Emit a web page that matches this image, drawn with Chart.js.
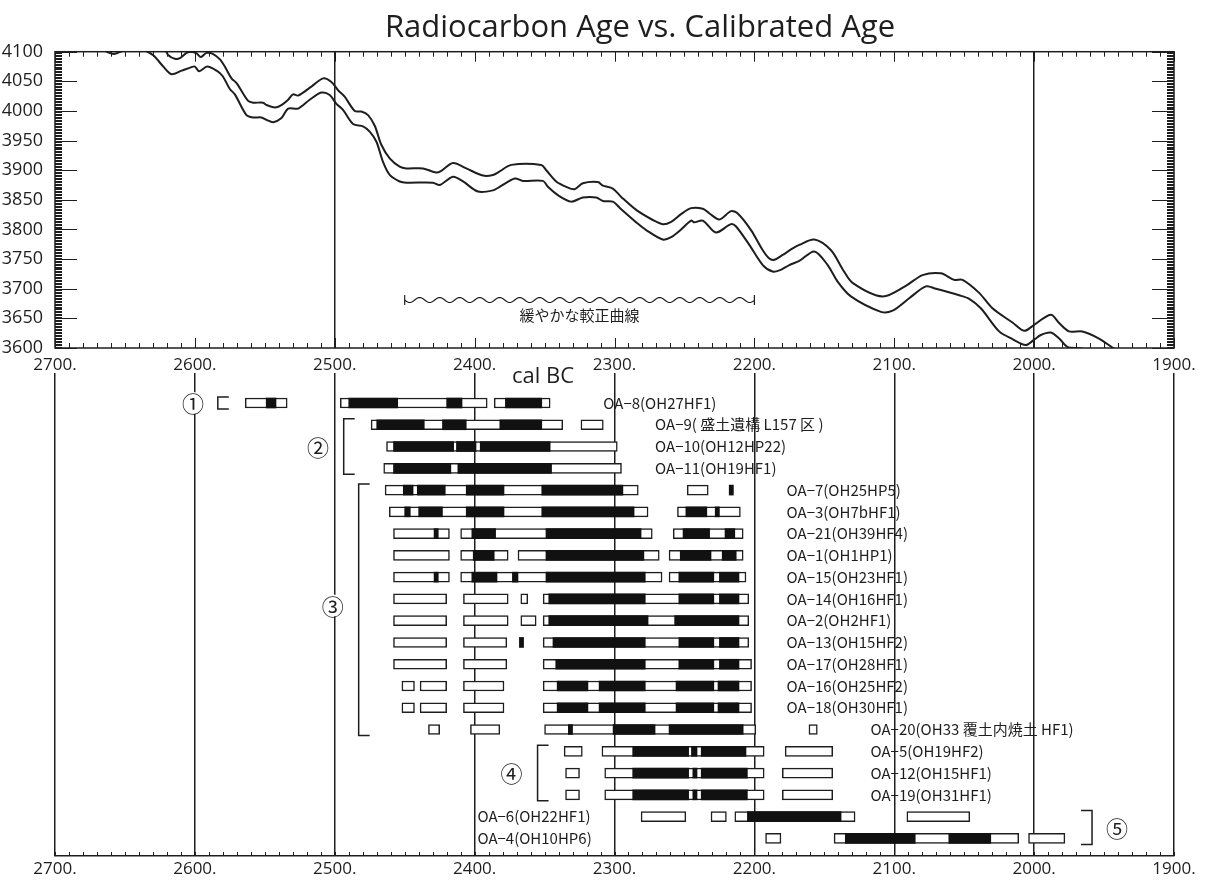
<!DOCTYPE html>
<html>
<head>
<meta charset="utf-8">
<script src="https://cdn.jsdelivr.net/npm/chart.js@4.4.1/dist/chart.umd.min.js"></script>
<style>
  body { margin: 0; background: #fff; }
  #wrap { position: relative; width: 1207px; height: 880px; }
  #curveChart { position: absolute; left: 0; top: 0; }
  #rangeChart { position: absolute; left: 0; top: 370px; }
</style>
</head>
<body>
<div id="wrap">
  <canvas id="curveChart" width="1207" height="390"></canvas>
  <canvas id="rangeChart" width="1207" height="510"></canvas>
</div>
<script>
// calibration curve, upper and lower bounds (cal BC -> 14C BP)
const upperYears = [2672, 2650, 2630, 2621.4, 2619, 2614.3, 2610.7, 2606, 2602.4, 2598.8, 2595.7, 2591.7, 2586.9,
  2582.1, 2578.6, 2573.8, 2570.2, 2561.9, 2558.3, 2551.2, 2548.8, 2542.9, 2538.1, 2533.3, 2529.8, 2526.2, 2516.7,
  2508.3, 2502.4, 2497.6, 2492.9, 2485.7, 2481, 2476.2, 2471.4, 2466.7, 2460.7, 2453.6, 2448.8, 2436.9, 2427.4,
  2423.8, 2415.5, 2406, 2394, 2386.9, 2382.1, 2373.8, 2352.4, 2348.8, 2341.7, 2334.5, 2328.6, 2322.6, 2311.9,
  2308.3, 2301.2, 2295.2, 2284.5, 2272.6, 2265.5, 2259.5, 2252.4, 2245.2, 2236.9, 2232.1, 2225, 2216.7, 2211.9,
  2202.4, 2194, 2189.3, 2185.7, 2179.8, 2172.6, 2167.9, 2157.1, 2145.2, 2136.9, 2129.8, 2108.4, 2091.7, 2079.8,
  2066.7, 2057.1, 2051.2, 2039.3, 2029.8, 2015.5, 2007.1, 2001.2, 1988.1, 1982.1, 1975, 1965.5, 1953.6, 1942.9, 1936.9];
const upperAges = [4135, 4126, 4112, 4103, 4094, 4088, 4089, 4098, 4100, 4097, 4091, 4098, 4096,
  4087, 4075, 4055, 4047, 4017, 4014, 4014, 4010, 4006, 4010, 4019, 4028, 4026, 4041,
  4055, 4049, 4035, 4024, 4000, 3999, 3993, 3975, 3943, 3920, 3906, 3903, 3903, 3896,
  3899, 3912, 3903, 3891, 3892, 3898, 3909, 3909, 3900, 3881, 3872, 3868, 3878, 3880,
  3874, 3869, 3855, 3833, 3816, 3809, 3813, 3826, 3836, 3835, 3827, 3817, 3831, 3827,
  3799, 3765, 3751, 3749, 3757, 3768, 3774, 3783, 3765, 3733, 3710, 3687, 3705, 3723,
  3726, 3715, 3715, 3693, 3667, 3643, 3629, 3637, 3656, 3642, 3628, 3628, 3616, 3599, 3591];
const lowerYears = [2672, 2664, 2658, 2652, 2645, 2636.9, 2629.8, 2622.6, 2616.7, 2609.5, 2602.4, 2600, 2596.9,
  2591.2, 2584.5, 2580.2, 2575, 2571.4, 2563.1, 2558.3, 2552.4, 2548.8, 2544, 2538.1, 2533.3, 2526.2, 2517.9,
  2509.5, 2503.6, 2498.8, 2494.1, 2486.9, 2479.8, 2475, 2470.2, 2465.5, 2460.7, 2453.6, 2448.8, 2429.8, 2425,
  2415.5, 2408.3, 2397.6, 2386.9, 2382.1, 2371.4, 2365.5, 2351.2, 2347.6, 2340.5, 2331, 2322.6, 2313.1, 2308.3,
  2301.2, 2295.2, 2284.5, 2277.4, 2265.5, 2259.5, 2252.4, 2245.2, 2242.9, 2236.9, 2227.4, 2216.7, 2213.1, 2203.6,
  2194, 2186.9, 2182.1, 2175, 2167.9, 2157.1, 2147.6, 2140.5, 2131, 2109.5, 2101.2, 2089.3, 2077.4, 2070.2,
  2053.6, 2046.4, 2038.1, 2025, 2015.5, 2006, 2000, 1995.2, 1988.1, 1982.1, 1976.2, 1965.5, 1960.7];
const lowerAges = [4112, 4101, 4096, 4101, 4107, 4103, 4094, 4075, 4062, 4068, 4074, 4075, 4067,
  4075, 4068, 4059, 4037, 4028, 3993, 3989, 3989, 3985, 3981, 3988, 4004, 4004, 4019,
  4031, 4027, 4012, 4002, 3978, 3974, 3965, 3948, 3914, 3892, 3881, 3879, 3879, 3875,
  3889, 3881, 3864, 3866, 3872, 3886, 3882, 3882, 3872, 3858, 3847, 3854, 3854, 3848,
  3847, 3834, 3812, 3799, 3783, 3787, 3800, 3815, 3812, 3815, 3795, 3809, 3805, 3774,
  3740, 3729, 3731, 3740, 3747, 3763, 3740, 3712, 3687, 3661, 3663, 3684, 3704, 3700,
  3689, 3683, 3667, 3628, 3615, 3605, 3614, 3622, 3626, 3616, 3602, 3599, 3591];

// samples, top to bottom
const sampleNames = [
  'OA−8(OH27HF1)', 'OA−9( 盛土遺構 L157 区 )', 'OA−10(OH12HP22)', 'OA−11(OH19HF1)',
  'OA−7(OH25HP5)', 'OA−3(OH7bHF1)', 'OA−21(OH39HF4)', 'OA−1(OH1HP1)', 'OA−15(OH23HF1)',
  'OA−14(OH16HF1)', 'OA−2(OH2HF1)', 'OA−13(OH15HF2)', 'OA−17(OH28HF1)', 'OA−16(OH25HF2)',
  'OA−18(OH30HF1)', 'OA−20(OH33 覆土内焼土 HF1)', 'OA−5(OH19HF2)', 'OA−12(OH15HF1)',
  'OA−19(OH31HF1)', 'OA−6(OH22HF1)', 'OA−4(OH10HP6)'
];

// 2 sigma ranges (open boxes), cal BC
const twoSigma = [
  [[2564, 2534], [2496, 2391], [2386, 2346]],
  [[2474, 2337], [2324, 2308]],
  [[2463, 2298]],
  [[2465, 2295]],
  [[2464, 2283], [2248, 2233]],
  [[2461, 2276], [2255, 2210]],
  [[2458, 2418], [2410, 2273], [2258, 2208]],
  [[2458, 2418], [2410, 2376], [2369, 2268], [2261, 2208]],
  [[2458, 2418], [2410, 2266], [2261, 2206]],
  [[2458, 2420], [2408, 2376], [2367, 2362], [2351, 2204]],
  [[2458, 2420], [2408, 2376], [2367, 2356], [2351, 2204]],
  [[2458, 2420], [2408, 2377], [2351, 2204]],
  [[2458, 2420], [2408, 2377], [2351, 2202]],
  [[2452, 2443], [2439, 2420], [2408, 2379], [2351, 2202]],
  [[2452, 2443], [2439, 2420], [2408, 2379], [2351, 2202]],
  [[2433, 2425], [2403, 2382], [2350, 2199], [2161, 2155]],
  [[2336, 2323], [2309, 2193], [2178, 2144]],
  [[2335, 2325], [2307, 2193], [2180, 2144]],
  [[2335, 2325], [2307, 2193], [2180, 2144]],
  [[2281, 2249], [2231, 2220], [2214, 2128], [2091, 2046]],
  [[2192, 2181], [2143, 2011], [2004, 1978]]
];

// 1 sigma ranges (filled), cal BC
const oneSigma = [
  [[2549, 2542], [2490, 2455], [2420, 2409], [2378, 2352]],
  [[2470, 2436], [2423, 2406], [2382, 2352]],
  [[2458, 2415], [2413, 2399], [2396, 2346]],
  [[2458, 2417], [2412, 2345]],
  [[2451, 2444], [2441, 2421], [2406, 2379], [2352, 2294], [2218, 2215]],
  [[2450, 2446], [2440, 2423], [2406, 2379], [2352, 2286], [2249, 2234], [2228, 2225]],
  [[2429, 2426], [2402, 2385], [2349, 2281], [2251, 2232], [2221, 2214]],
  [[2401, 2386], [2349, 2279], [2253, 2231], [2223, 2213]],
  [[2429, 2426], [2402, 2384], [2373, 2369], [2349, 2278], [2254, 2229], [2225, 2211]],
  [[2347, 2278], [2254, 2229], [2225, 2211]],
  [[2347, 2276], [2257, 2211]],
  [[2368, 2365], [2344, 2278], [2254, 2229], [2225, 2211]],
  [[2342, 2278], [2254, 2229], [2225, 2211]],
  [[2341, 2319], [2311, 2278], [2256, 2229], [2226, 2211]],
  [[2341, 2319], [2311, 2278], [2256, 2229], [2226, 2211]],
  [[2333, 2330], [2301, 2271], [2261, 2208]],
  [[2287, 2247], [2245, 2241], [2238, 2206]],
  [[2287, 2247], [2244, 2241], [2238, 2205]],
  [[2287, 2247], [2244, 2241], [2238, 2205]],
  [[2205, 2138]],
  [[2135, 2085], [2061, 2031]]
];

// where each sample name starts (cal BC)
const nameAt = [2308, 2271, 2271, 2271, 2177, 2177, 2177, 2177, 2177, 2177, 2177, 2177, 2177, 2177, 2177,
  2117, 2117, 2117, 2117, 2398, 2398];

// site groups: mark, first row, last row
const groupMarks = ['①', '②', '③', '④', '⑤'];
const groupRows = [[0, 0], [1, 3], [4, 15], [16, 18], [19, 20]];

const ink = '#1e1e1e';
const latin = '"Open Sans", sans-serif';
const cjk = '"Noto Sans CJK JP", sans-serif';
Chart.defaults.font.family = latin;
Chart.defaults.color = ink;

function zip(xs, ys) {
  return xs.map((x, i) => ({ x: x, y: ys[i] }));
}

// frame, inward ticks, title and the "slow curve" note for the top panel
const curveDecor = {
  id: 'curveDecor',
  afterDraw(chart) {
    const { ctx, chartArea: a, scales: { x, y } } = chart;
    ctx.save();
    ctx.strokeStyle = ink;
    ctx.lineWidth = 1.5;
    ctx.strokeRect(a.left, a.top, a.right - a.left, a.bottom - a.top);

    ctx.lineWidth = 1;
    ctx.beginPath();
    for (let v = 1900; v <= 2700; v += 10) {
      const px = Math.round(x.getPixelForValue(v)) + 0.5;
      const len = v % 100 === 0 ? 10 : 5;
      ctx.moveTo(px, a.bottom); ctx.lineTo(px, a.bottom - len);
      ctx.moveTo(px, a.top); ctx.lineTo(px, a.top + len);
    }
    for (let v = 3600; v <= 4100; v += 2.5) {
      const py = Math.round(y.getPixelForValue(v)) + 0.5;
      const len = v % 50 === 0 ? 22 : 7;
      ctx.moveTo(a.left, py); ctx.lineTo(a.left + len, py);
      ctx.moveTo(a.right, py); ctx.lineTo(a.right - len, py);
    }
    ctx.stroke();

    // wavy bracket over 2450-2200 cal BC
    const x0 = x.getPixelForValue(2450), x1 = x.getPixelForValue(2200);
    const wy = y.getPixelForValue(3681);
    ctx.lineWidth = 1.2;
    ctx.beginPath();
    ctx.moveTo(x0, wy - 5); ctx.lineTo(x0, wy + 5);
    ctx.moveTo(x1, wy - 5); ctx.lineTo(x1, wy + 5);
    ctx.moveTo(x0, wy);
    for (let px = x0; px <= x1; px += 1) {
      ctx.lineTo(px, wy + 2.5 * Math.sin((px - x0) / 20 * 2 * Math.PI));
    }
    ctx.stroke();

    ctx.fillStyle = ink;
    ctx.textAlign = 'center';
    ctx.textBaseline = 'middle';
    ctx.font = '15px ' + cjk;
    ctx.fillText('緩やかな較正曲線', (x0 + x1) / 2, y.getPixelForValue(3655));

    ctx.font = '31px ' + latin;
    ctx.fillText('Radiocarbon Age vs. Calibrated Age', 640, 28);
    ctx.font = '22px ' + latin;
    ctx.fillText('cal BC', 543, 377);
    ctx.restore();
  }
};

new Chart(document.getElementById('curveChart'), {
  type: 'line',
  data: {
    datasets: [
      { data: zip(upperYears, upperAges), borderColor: ink, borderWidth: 2, pointRadius: 0, tension: 0.3, clip: 0 },
      { data: zip(lowerYears, lowerAges), borderColor: ink, borderWidth: 2, pointRadius: 0, tension: 0.3, clip: 0 }
    ]
  },
  options: {
    responsive: false,
    animation: false,
    layout: { padding: { top: 51.7, right: 33, bottom: 12, left: 0 } },
    plugins: { legend: { display: false }, tooltip: { enabled: false } },
    scales: {
      x: {
        type: 'linear', reverse: true, min: 1900, max: 2700,
        ticks: { stepSize: 100, autoSkip: false, maxRotation: 0, padding: 7,
          font: { size: 17 }, callback: v => v + '.' },
        grid: { drawTicks: false, lineWidth: 1.5,
          color: c => (c.tick.value === 2500 || c.tick.value === 2000) ? ink : 'rgba(0,0,0,0)' },
        border: { display: false },
        afterFit: s => { s.height = 30; }
      },
      y: {
        min: 3600, max: 4100,
        ticks: { stepSize: 50, padding: 4, font: { size: 18 }, callback: v => String(v) },
        grid: { display: false },
        border: { display: false },
        afterFit: s => { s.width = 55; }
      }
    }
  },
  plugins: [curveDecor]
});

const openBoxes = [], filledBoxes = [];
twoSigma.forEach((ranges, row) => ranges.forEach(r => openBoxes.push({ x: r, y: row })));
oneSigma.forEach((ranges, row) => ranges.forEach(r => filledBoxes.push({ x: r, y: row })));

// sample names, group brackets and minor ticks for the lower panel
const rangeDecor = {
  id: 'rangeDecor',
  afterDraw(chart) {
    const { ctx, chartArea: a, scales: { x, y } } = chart;
    ctx.save();
    ctx.strokeStyle = ink;
    ctx.fillStyle = ink;
    ctx.lineWidth = 1;
    ctx.beginPath();
    for (let v = 1900; v <= 2700; v += 10) {
      const px = Math.round(x.getPixelForValue(v)) + 0.5;
      ctx.moveTo(px, a.bottom); ctx.lineTo(px, a.bottom - 4);
    }
    ctx.stroke();

    ctx.font = '15px ' + cjk;
    ctx.textAlign = 'left';
    ctx.textBaseline = 'middle';
    sampleNames.forEach((name, row) => {
      ctx.fillText(name, x.getPixelForValue(nameAt[row]), y.getPixelForValue(row));
    });

    // brackets: year of the bracket spine, year of the mark
    const spineAt = [2583.6, 2493.6, 2482.9, 2355, 1958.6];
    const markAt = [2601.4, 2512, 2501.4, 2373.6, 1940.7];
    ctx.lineWidth = 1.5;
    groupRows.forEach(([r0, r1], i) => {
      const sx = x.getPixelForValue(spineAt[i]);
      const t = y.getPixelForValue(r0) - 6, b = y.getPixelForValue(r1) + 6;
      const arm = i === 4 ? -11 : 11;
      ctx.beginPath();
      ctx.moveTo(sx + arm, t); ctx.lineTo(sx, t); ctx.lineTo(sx, b); ctx.lineTo(sx + arm, b);
      ctx.stroke();

      const mx = x.getPixelForValue(markAt[i]);
      const my = i === 2 ? y.getPixelForValue(9.3) : (y.getPixelForValue(r0) + y.getPixelForValue(r1)) / 2;
      ctx.fillStyle = '#fff';
      ctx.beginPath(); ctx.arc(mx, my, 11, 0, 2 * Math.PI); ctx.fill();
      ctx.fillStyle = ink;
      ctx.font = '22px ' + cjk;
      ctx.textAlign = 'center';
      ctx.fillText(groupMarks[i], mx, my + 1);
    });
    ctx.restore();
  }
};

new Chart(document.getElementById('rangeChart'), {
  type: 'bar',
  data: {
    datasets: [
      { label: '1σ', data: filledBoxes, backgroundColor: '#111', borderWidth: 0,
        barThickness: 10, grouped: false, order: 0 },
      { label: '2σ', data: openBoxes, backgroundColor: '#fff', borderColor: ink, borderWidth: 1.5,
        borderSkipped: false, barThickness: 10, grouped: false, order: 1 }
    ]
  },
  options: {
    indexAxis: 'y',
    responsive: false,
    animation: false,
    layout: { padding: { top: 3, right: 33, bottom: 4, left: 0 } },
    plugins: { legend: { display: false }, tooltip: { enabled: false } },
    scales: {
      x: {
        type: 'linear', reverse: true, min: 1900, max: 2700,
        ticks: { stepSize: 100, autoSkip: false, maxRotation: 0, padding: 3,
          font: { size: 17 }, callback: v => v + '.' },
        grid: { drawTicks: false, lineWidth: 1.5, color: ink },
        border: { display: true, color: ink, width: 1.5 },
        afterFit: s => { s.height = 20; }
      },
      y: {
        type: 'linear', reverse: true, min: -1.378, max: 20.809, offset: false,
        ticks: { display: false },
        grid: { display: false, offset: false },
        border: { display: false },
        afterFit: s => { s.width = 55; }
      }
    }
  },
  plugins: [rangeDecor]
});
</script>
</body>
</html>
